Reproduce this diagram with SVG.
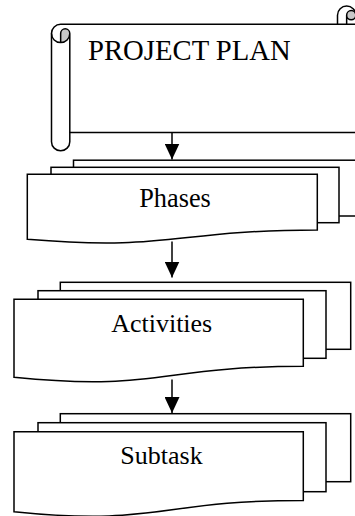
<svg xmlns="http://www.w3.org/2000/svg" width="355" height="516" viewBox="0 0 355 516">
<style>
.ln{fill:none;stroke:#000;stroke-width:1.5;stroke-linejoin:miter}
.pg{fill:#fff;stroke:#000;stroke-width:1.5}
.dk{fill:#c8c8c8;stroke:none}
.t{font-family:"Liberation Serif","Times New Roman",serif;fill:#000}
</style>
<defs>
<marker id="ah" viewBox="0 0 16 15" refX="16" refY="7.5" markerWidth="16" markerHeight="15" markerUnits="userSpaceOnUse" orient="auto">
<path d="M0,0 L16,7.5 L0,15 z" fill="#000"/>
</marker>
</defs>
<rect width="355" height="516" fill="#fff"/>
<g id="project-plan">
<path class="dk" d="M60.65,42.6 A9.15,9.15 0 0 0 69.8,33.45 A4.575,4.575 0 0 0 60.65,33.45 Z"/>
<path class="dk" d="M346.65,15.15 A4.575,4.575 0 0 1 355.8,15.15 A4.575,4.575 0 0 1 346.65,15.15 Z"/>
<path class="ln" d="M362,24.3 L60.65,24.3 A9.15,9.15 0 0 0 51.5,33.45 L51.5,141.65 A9.15,9.15 0 0 0 69.8,141.65 L69.8,132.5 L362,132.5"/>
<path class="ln" d="M337.5,24.3 L337.5,15.15 A9.15,9.15 0 0 1 355.8,15.15"/>
<path class="ln" d="M60.65,42.6 L60.65,33.45 A4.575,4.575 0 0 1 69.8,33.45 A9.15,9.15 0 0 1 51.5,33.45 M69.8,33.45 L69.8,132.5"/>
<path class="ln" d="M346.65,24.3 L346.65,15.15 A4.575,4.575 0 0 1 355.8,15.15 A4.575,4.575 0 0 1 346.65,15.15"/>
<text class="t" x="88" y="60" font-size="28.7">PROJECT PLAN</text>
</g>
<g id="phases">
<rect class="pg" x="73.5" y="160.2" width="290" height="55.8"/>
<rect class="pg" x="51" y="167.3" width="288" height="55.4"/>
<path class="pg" d="M27.3,174.3 H317.3 V230.1 C172.3,230.1 172.3,251.4 27.3,239.3 Z"/>
<text class="t" x="175" y="206.7" font-size="26.3" text-anchor="middle">Phases</text>
</g>
<g id="activities">
<rect class="pg" x="60.3" y="282.3" width="290.4" height="67"/>
<rect class="pg" x="38" y="290.7" width="288" height="67.6"/>
<path class="pg" d="M14,299.3 H303.3 V366.3 C158.65,366.3 158.65,391.8 14,377.3 Z"/>
<text class="t" x="161.7" y="331.7" font-size="26" text-anchor="middle">Activities</text>
</g>
<g id="subtask">
<rect class="pg" x="60.3" y="413.7" width="290.4" height="68"/>
<rect class="pg" x="38" y="422.7" width="288" height="69"/>
<path class="pg" d="M14,431.7 H303.3 V500.4 C158.65,500.4 158.65,526.6 14,511.7 Z"/>
<text class="t" x="161.5" y="464" font-size="26" text-anchor="middle">Subtask</text>
</g>
<g id="connectors">
<line class="ln" x1="172" y1="132.5" x2="172" y2="159.5" marker-end="url(#ah)"/>
<line class="ln" x1="172" y1="241.5" x2="172" y2="277.5" marker-end="url(#ah)"/>
<line class="ln" x1="172" y1="379.5" x2="172" y2="413" marker-end="url(#ah)"/>
</g>
</svg>
